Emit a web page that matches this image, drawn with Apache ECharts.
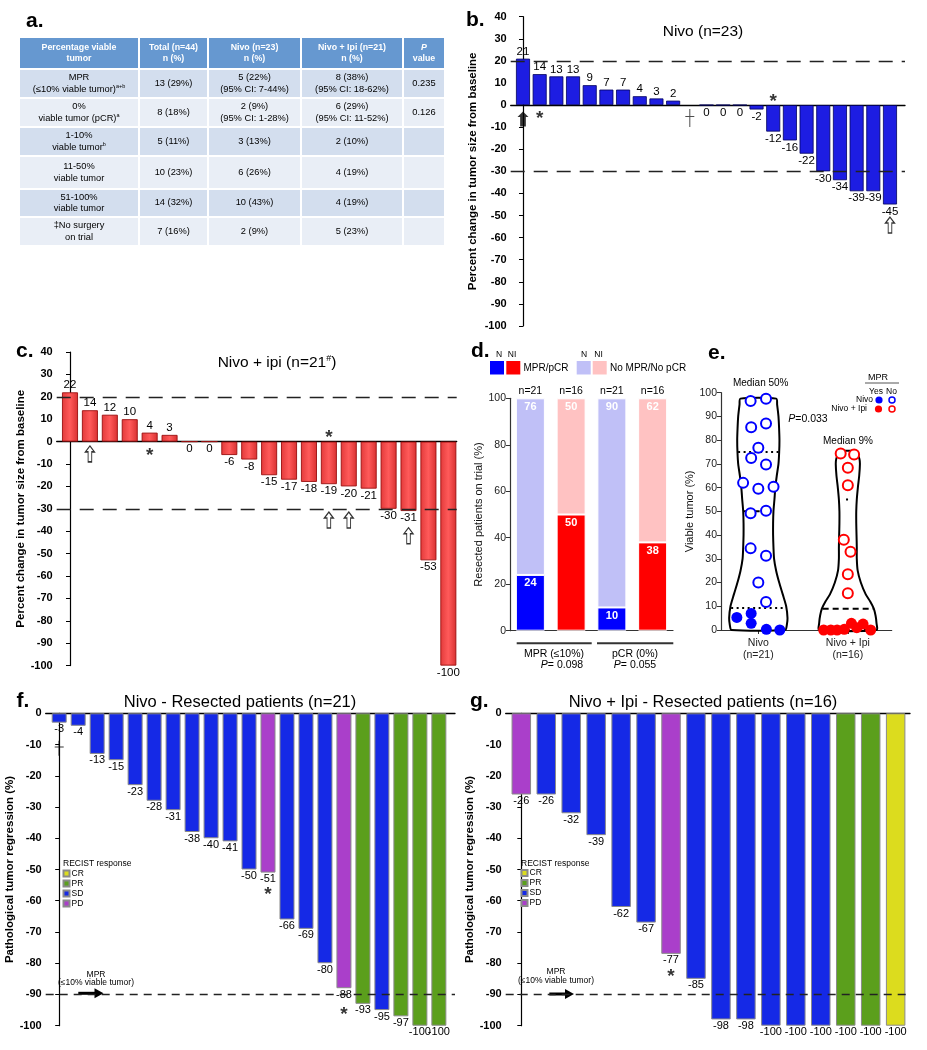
<!DOCTYPE html>
<html><head><meta charset="utf-8">
<script src="https://cdn.jsdelivr.net/npm/echarts@6/dist/echarts.min.js"></script>
<style>
html,body{margin:0;padding:0;background:#fff;}
#chart{position:absolute;left:0;top:0;width:927px;height:1050px;}
#tbl{position:absolute;left:18px;top:36px;border-collapse:separate;border-spacing:2px;table-layout:fixed;
 font-family:"Liberation Sans",Arial,sans-serif;font-size:9.3px;line-height:11.5px;color:#000;}
#tbl td{padding:0;text-align:center;vertical-align:middle;overflow:hidden;white-space:nowrap;}
#tbl tr.h td{background:#6698d0;color:#fff;font-weight:bold;font-size:8.8px;}
#tbl tr.r0 td{background:#d3deee;}
#tbl tr.r1 td{background:#e9eef6;}
#tbl sup{font-size:5.5px;line-height:0;vertical-align:4px;}
</style></head>
<body>
<div id="chart"></div>
<table id="tbl"></table>
<script>
// ---------------- DATA ----------------
// a. table
const tableHeader = [['Percentage viable','tumor'],['Total (n=44)','n (%)'],['Nivo (n=23)','n (%)'],['Nivo + Ipi (n=21)','n (%)'],['P','value']];
const tableRowLabels = [['MPR','(≤10% viable tumor)','a+b'],['0%','viable tumor (pCR)','a'],['1-10%','viable tumor','b'],['11-50%','viable tumor',''],['51-100%','viable tumor',''],['‡No surgery','on trial','']];
const tableTotal = ['13 (29%)','8 (18%)','5 (11%)','10 (23%)','14 (32%)','7 (16%)'];
const tableNivo = [['5 (22%)','(95% CI: 7-44%)'],['2 (9%)','(95% CI: 1-28%)'],['3 (13%)'],['6 (26%)'],['10 (43%)'],['2 (9%)']];
const tableNivoIpi = [['8 (38%)','(95% CI: 18-62%)'],['6 (29%)','(95% CI: 11-52%)'],['2 (10%)'],['4 (19%)'],['4 (19%)'],['5 (23%)']];
const tablePValue = ['0.235','0.126','','','',''];

// b. Nivo percent change (null = no surgery / not measured)
const nivoChange = [21,14,13,13,9,7,7,4,3,2,null,0,0,0,-2,-12,-16,-22,-30,-34,-39,-39,-45];
const bSolidArrows = [[0,-6.3]];
const bHollowArrows = [[22,-54.3]];
const bStars = [[1,-4.4],[15,3.2]];
const bDaggers = [[10,-5.8]];

// c. Nivo + ipi percent change
const ipiChange = [22,14,12,10,4,3,0,0,-6,-8,-15,-17,-18,-19,-20,-21,-30,-31,-53,-100];
const cHollowArrows = [[1,-5.5],[13,-35],[14,-35],[17,-42]];
const cStars = [[4,-4.5],[13,3.7]];

// d. stacked response
const dGroups = ['MPR (≤10%)','pCR (0%)'];
const dPValues = ['0.098','0.055'];
const dArm = ['N','NI','N','NI'];
const dResp = [24,50,10,38];
const dNoResp = [76,50,90,62];
const dN = [21,16,21,16];

// e. viable tumor violin
const eArms = ['Nivo','Nivo + Ipi'];
const eArmN = [21,16];
const eMedianText = ['Median 50%','Median 9%'];
const eNivoYesX = [-0.24,-0.08,-0.08,0.09,0.24];
const eNivoYesY = [5.3,7,2.8,0.3,0];
const eNivoNoX = [-0.086,0.086,-0.08,0.086,0,-0.08,0.086,-0.17,0,0.17,-0.086,0.086,-0.086,0.086,0,0.086];
const eNivoNoY = [96.5,97.5,85.4,87,76.8,72.5,69.7,62,59.5,60.4,49.2,50.3,34.4,31.3,20,11.8];
const eIpiYesX = [-0.27,-0.19,-0.12,-0.04,0.04,0.10,0.17,0.255];
const eIpiYesY = [0,0,0,0.3,2.8,1,2.5,0];
const eIpiNoX = [-0.08,0.07,0,0,-0.045,0.03,0,0];
const eIpiNoY = [74.4,74,68.4,61,38,33,23.5,15.5];
const eViolinLevels = [
  [97.5,95,90,85,80,75,70,65,60,55,50,45,40,35,30,25,20,15,10,5,2,0],
  [75.5,75,74,72,70,65,60,55,50,45,40,35,30,25,20,15,12,9,6,3,0]
];
const eViolinHalf = [
  [0.20,0.21,0.225,0.232,0.236,0.233,0.225,0.206,0.19,0.18,0.169,0.165,0.165,0.169,0.176,0.199,0.233,0.273,0.311,0.326,0.318,0.30],
  [0.05,0.09,0.11,0.13,0.135,0.127,0.112,0.10,0.094,0.094,0.097,0.10,0.10,0.11,0.145,0.20,0.25,0.29,0.31,0.32,0.32]
];
const eQ1 = [9.3, 0];
const eMedian = [50, 9];
const eQ3 = [75, 55];
const eP = '0.033';

// f. Nivo pathological regression
const fRegression = [-3,-4,-13,-15,-23,-28,-31,-38,-40,-41,-50,-51,-66,-69,-80,-88,-93,-95,-97,-100,-100];
const fRecist = ['SD','SD','SD','SD','SD','SD','SD','SD','SD','SD','SD','PD','SD','SD','SD','PD','PR','SD','PR','PR','PR'];
const fDaggers = [[0,-11.2]];
const fStars = [[11,-56.9],[15,-95.3]];
// g. Nivo + Ipi pathological regression
const gRegression = [-26,-26,-32,-39,-62,-67,-77,-85,-98,-98,-100,-100,-100,-100,-100,-100];
const gRecist = ['PD','SD','SD','SD','SD','SD','PD','SD','SD','SD','SD','SD','SD','PR','PR','CR'];
const gStars = [[6,-82.9]];
const recistNames = ['CR','PR','SD','PD'];
const mprThreshold = -90;

// ---------------- TABLE ----------------
(function(){
  const widths=[118,67,91,100,40], heights=[30,27,27,27,31,26,27];
  let h='<colgroup>'+widths.map(w=>'<col style="width:'+w+'px">').join('')+'</colgroup>';
  h+='<tr class="h" style="height:'+heights[0]+'px">'+tableHeader.map((c,i)=>'<td>'+(i===4?'<i>'+c[0]+'</i>':c[0])+'<br>'+c[1]+'</td>').join('')+'</tr>';
  tableRowLabels.forEach((r,k)=>{
    h+='<tr class="r'+(k%2)+'" style="height:'+heights[k+1]+'px">';
    h+='<td>'+r[0]+'<br>'+r[1]+(r[2]?'<sup>'+r[2]+'</sup>':'')+'</td>';
    h+='<td>'+tableTotal[k]+'</td>';
    h+='<td>'+tableNivo[k].join('<br>')+'</td>';
    h+='<td>'+tableNivoIpi[k].join('<br>')+'</td>';
    h+='<td>'+tablePValue[k]+'</td></tr>';
  });
  document.getElementById('tbl').innerHTML=h;
})();

// ---------------- CHART ----------------
const FONT='"Liberation Sans", Arial, Helvetica, sans-serif';
const chart=echarts.init(document.getElementById('chart'),null,{renderer:'canvas',width:927,height:1050});
const ARROW='path://M5,0 L10,6 L7,6 L7,16 L3,16 L3,6 L0,6 Z';
const ARROW_SOLID='path://M5,0 L10,6 L7.6,6 L7.6,16 L2.4,16 L2.4,6 L0,6 Z';
const DAGGER='path://M4,0 L5,0 L5,7 L9,7 L9,8 L5,8 L5,18 L4,18 L4,8 L0,8 L0,7 L4,7 Z';
const DAGGER_BOLD='path://M3.8,0 L5.2,0 L5.2,6.8 L9,6.8 L9,8.2 L5.2,8.2 L5.2,18 L3.8,18 L3.8,8.2 L0,8.2 L0,6.8 L3.8,6.8 Z';
const recistColor={CR:'#dcdc1e',PR:'#5b9f1c',SD:'#1529e6',PD:'#aa3fca'};

function waterY(gi,min,max,name,gap){
  return {gridIndex:gi,type:'value',min:min,max:max,interval:10,name:name,nameLocation:'middle',nameGap:gap,
    nameTextStyle:{fontSize:11.5,fontWeight:'bold',color:'#000',fontFamily:FONT},
    axisLine:{show:true,lineStyle:{color:'#000',width:1.2}},axisTick:{show:true,length:4,lineStyle:{color:'#000'}},
    axisLabel:{fontSize:11,fontWeight:'bold',color:'#000',margin:4,fontFamily:FONT},splitLine:{show:false}};
}
function waterX(gi,min,max){
  return {gridIndex:gi,type:'value',min:min,max:max,axisLine:{show:true,onZero:true,lineStyle:{color:'#000',width:1.3}},
    axisTick:{show:false},axisLabel:{show:false},splitLine:{show:false}};
}
function waterData(vals){
  return vals.map((v,i)=>v===null?null:{value:[i,v],label:{position:v>0?'top':'bottom'}}).filter(Boolean);
}
function markerSeries(gi,pts,kind,size){
  const s={type:'scatter',xAxisIndex:gi,yAxisIndex:gi,data:pts,clip:false,z:5,silent:true};
  if(kind==='star'){
    s.symbol='circle';s.symbolSize=1;s.itemStyle={color:'rgba(0,0,0,0)'};
    s.label={show:true,formatter:'*',position:'inside',fontSize:size||19,fontWeight:'bold',color:'#000',offset:[0,4],fontFamily:FONT};
  } else if(kind==='dagger'){
    s.symbol=DAGGER;s.symbolSize=size;s.itemStyle={color:'#222'};
  } else if(kind==='daggerBold'){
    s.symbol=DAGGER_BOLD;s.symbolSize=size;s.itemStyle={color:'#000'};
  } else if(kind==='solid'){
    s.symbol=ARROW_SOLID;s.symbolSize=size;s.itemStyle={color:'#000'};
  } else {
    s.symbol=ARROW;s.symbolSize=size;
    s.itemStyle={color:'#fff',borderColor:'#000',borderWidth:1.2};
  }
  return s;
}
function dashedMark(vals,dash){
  return {silent:true,symbol:'none',label:{show:false},lineStyle:{type:dash,color:'#222',width:1.3},data:vals.map(v=>({yAxis:v}))};
}
function pathSeries(gi,vals,resp,barW){
  return recistNames.map(r=>({
    type:'bar',name:r,xAxisIndex:gi,yAxisIndex:gi,barWidth:barW,barGap:'-100%',
    data:vals.map((v,i)=>resp[i]===r?[i,v]:null).filter(Boolean),
    itemStyle:{color:recistColor[r],borderColor:'#8a8a8a',borderWidth:1},
    label:{show:true,position:'bottom',distance:1,fontSize:11,color:'#000',fontFamily:FONT,formatter:p=>p.value[1]},
    markLine:r==='SD'?dashedMark([mprThreshold],[8,6]):undefined
  }));
}
function interpHalf(k,y){
  const L=eViolinLevels[k],W=eViolinHalf[k];
  for(let i=0;i<L.length-1;i++){
    if(y<=L[i]&&y>=L[i+1]){const t=(L[i]-y)/(L[i]-L[i+1]);return W[i]+(W[i+1]-W[i])*t;}
  }
  return W[W.length-1];
}
function scatterData(cx,xs,ys){return xs.map((x,i)=>[cx+x,ys[i]]);}

// grids: 0=b,1=c,2=d,3=e,4=f,5=g
const grid=[
  {left:510.7,top:16.7,width:394.3,height:309.3},
  {left:56.7,top:352,width:400,height:313.6},
  {left:510,top:398.3,width:163,height:232.4},
  {left:721,top:392.7,width:170.7,height:237.3},
  {left:45.7,top:713.3,width:409.3,height:312.4},
  {left:505.7,top:713.3,width:404.3,height:312.4}
];
const xAxis=[
  waterX(0,-0.737,22.9),
  waterX(1,-0.668,19.42),
  {gridIndex:2,type:'category',data:dArm,axisLabel:{show:false},axisTick:{alignWithLabel:true,length:5,lineStyle:{color:'#333'}},axisLine:{lineStyle:{color:'#333',width:1.2}}},
  {gridIndex:3,type:'value',min:0.583,max:2.49,splitLine:{show:false},axisLine:{onZero:false,lineStyle:{color:'#333',width:1.2}},
    axisTick:{show:true,customValues:[1,2],length:4,lineStyle:{color:'#333'}},
    axisLabel:{customValues:[1,2],formatter:v=>eArms[Math.round(v)-1]+'\n(n='+eArmN[Math.round(v)-1]+')',fontSize:10.5,lineHeight:12,color:'#222',margin:7,fontFamily:FONT}},
  waterX(4,-0.711,20.85),
  waterX(5,-0.625,15.575)
];
const yAxis=[
  waterY(0,-100,40,'Percent change in tumor size from baseline',32),
  waterY(1,-100,40,'Percent change in tumor size from baseline',27),
  {gridIndex:2,type:'value',min:0,max:100,interval:20,name:'Resected patients on trial (%)',nameLocation:'middle',nameGap:22,
    nameTextStyle:{fontSize:11,color:'#111',fontFamily:FONT},axisLine:{show:true,lineStyle:{color:'#333',width:1.2}},
    axisTick:{show:true,length:4,lineStyle:{color:'#333'}},axisLabel:{fontSize:10.5,color:'#222',margin:4,fontFamily:FONT},splitLine:{show:false}},
  {gridIndex:3,type:'value',min:0,max:100,interval:10,name:'Viable tumor (%)',nameLocation:'middle',nameGap:24,
    nameTextStyle:{fontSize:11,color:'#111',fontFamily:FONT},axisLine:{show:true,lineStyle:{color:'#333',width:1.2}},
    axisTick:{show:true,length:4,lineStyle:{color:'#333'}},axisLabel:{fontSize:10.5,color:'#222',margin:4,fontFamily:FONT},splitLine:{show:false}},
  waterY(4,-100,0,'Pathological tumor regression (%)',22),
  waterY(5,-100,0,'Pathological tumor regression (%)',26)
];

const barLabel={show:true,fontSize:11.5,color:'#000',distance:1,fontFamily:FONT,formatter:p=>p.value[1]};
const series=[
  // b
  {type:'bar',xAxisIndex:0,yAxisIndex:0,data:waterData(nivoChange),barWidth:14,
    itemStyle:{color:'#1d1de2',borderColor:'#00005c',borderWidth:0.8},label:barLabel,markLine:dashedMark([20,-30],[14,9])},
  markerSeries(0,bSolidArrows,'solid',[11,15]),
  markerSeries(0,bHollowArrows,'hollow',[9,16]),
  markerSeries(0,bStars,'star'),
  markerSeries(0,bDaggers,'dagger',[9,18]),
  // c
  {type:'bar',xAxisIndex:1,yAxisIndex:1,data:waterData(ipiChange),barWidth:16,
    itemStyle:{color:{type:'linear',x:0,y:0,x2:1,y2:0,colorStops:[{offset:0,color:'#e23a3a'},{offset:0.5,color:'#ff5a5a'},{offset:1,color:'#d83030'}]},borderColor:'#9a0f0f',borderWidth:0.9},
    label:barLabel,markLine:dashedMark([20,-30],[14,9])},
  markerSeries(1,cHollowArrows,'hollow',[9,16]),
  markerSeries(1,cStars,'star'),
  // d
  {type:'bar',name:'MPR/pCR',stack:'d',xAxisIndex:2,yAxisIndex:2,barWidth:29,
    data:dResp.map((v,i)=>({value:v,itemStyle:{color:dArm[i]==='N'?'#0000ff':'#ff0000'}})),
    itemStyle:{borderColor:'#fff',borderWidth:1},
    label:{show:true,position:'insideTop',distance:3,color:'#fff',fontWeight:'bold',fontSize:11,fontFamily:FONT}},
  {type:'bar',name:'No MPR/No pCR',stack:'d',xAxisIndex:2,yAxisIndex:2,barWidth:29,
    data:dNoResp.map((v,i)=>({value:v,itemStyle:{color:dArm[i]==='N'?'#c0c0f7':'#ffc2c2'}})),
    itemStyle:{borderColor:'#fff',borderWidth:1},
    label:{show:true,position:'insideTop',distance:3,color:'#fff',fontWeight:'bold',fontSize:11,fontFamily:FONT}},
  {type:'bar',stack:'d',xAxisIndex:2,yAxisIndex:2,barWidth:29,data:dN.map(()=>0),itemStyle:{color:'rgba(0,0,0,0)'},
    label:{show:true,position:'top',distance:2,color:'#000',fontSize:10.5,fontFamily:FONT,formatter:p=>'n='+dN[p.dataIndex]}},
  // e violins
  {type:'custom',xAxisIndex:3,yAxisIndex:3,data:[[1],[2]],silent:true,z:2,
    renderItem:function(params,api){
      const k=params.dataIndex,c=api.value(0);
      const L=eViolinLevels[k],W=eViolinHalf[k];
      const left=L.map((y,i)=>api.coord([c-W[i],y]));
      const right=L.map((y,i)=>api.coord([c+W[i],y])).reverse();
      return {type:'polygon',shape:{points:left.concat(right),smooth:0.25},style:{fill:'none',stroke:'#000',lineWidth:2}};
    }},
  {type:'custom',xAxisIndex:3,yAxisIndex:3,silent:true,z:3,
    data:[[1,eQ1[0],0],[1,eMedian[0],1],[1,eQ3[0],0],[2,eQ1[1],0],[2,eMedian[1],1],[2,eQ3[1],0]],
    renderItem:function(params,api){
      const c=api.value(0),y=api.value(1),med=api.value(2)===1,k=Math.round(c)-1;
      let hw=interpHalf(k,y)*0.97; if(k===1&&!med&&y>20) hw=0.02;
      const p1=api.coord([c-hw,y]),p2=api.coord([c+hw,y]);
      return {type:'line',shape:{x1:p1[0],y1:p1[1],x2:p2[0],y2:p2[1]},
        style:{stroke:'#000',lineWidth:2,lineDash:med?[6,4]:[2,3.5]}};
    }},
  {type:'scatter',xAxisIndex:3,yAxisIndex:3,clip:false,z:4,symbolSize:10,data:scatterData(1,eNivoNoX,eNivoNoY),
    itemStyle:{color:'#fff',borderColor:'#0000ff',borderWidth:2,opacity:1}},
  {type:'scatter',xAxisIndex:3,yAxisIndex:3,clip:false,z:4,symbolSize:11,data:scatterData(1,eNivoYesX,eNivoYesY),
    itemStyle:{color:'#0000ff',opacity:1}},
  {type:'scatter',xAxisIndex:3,yAxisIndex:3,clip:false,z:4,symbolSize:10,data:scatterData(2,eIpiNoX,eIpiNoY),
    itemStyle:{color:'#fff',borderColor:'#ff0000',borderWidth:2,opacity:1}},
  {type:'scatter',xAxisIndex:3,yAxisIndex:3,clip:false,z:4,symbolSize:11,data:scatterData(2,eIpiYesX,eIpiYesY),
    itemStyle:{color:'#ff0000',opacity:1}}
].concat(
  pathSeries(4,fRegression,fRecist,15),
  [markerSeries(4,fDaggers,'daggerBold',[9,15]),markerSeries(4,fStars,'star')],
  pathSeries(5,gRegression,gRecist,19.5),
  [markerSeries(5,gStars,'star')]
);

function txt(x,y,text,o){
  o=o||{};
  return {type:'text',x:x,y:y,z:10,silent:true,style:Object.assign({text:text,fill:'#000',fontFamily:FONT,fontSize:11,
    textAlign:'center',textVerticalAlign:'middle'},o)};
}
function arrow(x1,x2,y){
  return {type:'group',silent:true,z:10,children:[
    {type:'line',shape:{x1:x1,y1:y,x2:x2-7,y2:y},style:{stroke:'#000',lineWidth:3}},
    {type:'polygon',shape:{points:[[x2-9,y-5],[x2,y],[x2-9,y+5]]},style:{fill:'#000'}}
  ]};
}
const rich={i:{fontStyle:'italic',fontFamily:FONT,fontSize:11},sup:{fontSize:9,fontFamily:FONT,padding:[0,0,7,0]}};
const graphic=[
  txt(26,21.7,'a.',{textAlign:'left',fontSize:21,fontWeight:'bold'}),
  txt(466,20,'b.',{textAlign:'left',fontSize:21,fontWeight:'bold'}),
  txt(16,351.7,'c.',{textAlign:'left',fontSize:21,fontWeight:'bold'}),
  txt(471,351.7,'d.',{textAlign:'left',fontSize:21,fontWeight:'bold'}),
  txt(708,353.3,'e.',{textAlign:'left',fontSize:21,fontWeight:'bold'}),
  txt(16.5,701.7,'f.',{textAlign:'left',fontSize:21,fontWeight:'bold'}),
  txt(470,701.7,'g.',{textAlign:'left',fontSize:21,fontWeight:'bold'}),
  txt(703,31.5,'Nivo (n=23)',{fontSize:15.5}),
  txt(277,362.5,'Nivo + ipi (n=21{sup|#})',{fontSize:15.5,rich:rich}),
  txt(240,702,'Nivo - Resected patients (n=21)',{fontSize:16.5}),
  txt(703,702,'Nivo + Ipi - Resected patients (n=16)',{fontSize:16.5}),
  // d legend
  txt(499,355,'N',{fontSize:8.5}),txt(512,355,'NI',{fontSize:8.5}),
  {type:'rect',shape:{x:490,y:361,width:14,height:13.5},style:{fill:'#0000ff'},z:10},
  {type:'rect',shape:{x:506.3,y:361,width:14,height:13.5},style:{fill:'#ff0000'},z:10},
  txt(523.5,368,'MPR/pCR',{textAlign:'left',fontSize:10}),
  txt(584,355,'N',{fontSize:8.5}),txt(598.5,355,'NI',{fontSize:8.5}),
  {type:'rect',shape:{x:576.7,y:361,width:14,height:13.5},style:{fill:'#c0c0f7'},z:10},
  {type:'rect',shape:{x:592.7,y:361,width:14,height:13.5},style:{fill:'#ffc2c2'},z:10},
  txt(610,368,'No MPR/No pCR',{textAlign:'left',fontSize:10}),
  // d group brackets
  {type:'line',shape:{x1:516.7,y1:643.3,x2:591.7,y2:643.3},style:{stroke:'#333',lineWidth:2},z:10},
  {type:'line',shape:{x1:597,y1:643.3,x2:673.3,y2:643.3},style:{stroke:'#333',lineWidth:2},z:10},
  txt(554,654,dGroups[0],{fontSize:10.5}),txt(635,654,dGroups[1],{fontSize:10.5}),
  txt(562,665.5,'{i|P}= '+dPValues[0],{fontSize:10.5,rich:{i:{fontStyle:'italic',fontSize:10.5,fontFamily:FONT}}}),
  txt(635,665.5,'{i|P}= '+dPValues[1],{fontSize:10.5,rich:{i:{fontStyle:'italic',fontSize:10.5,fontFamily:FONT}}}),
  // e annotations
  txt(760.7,383.5,eMedianText[0],{fontSize:10}),
  txt(848,441.5,eMedianText[1],{fontSize:10}),
  txt(808,419,'{i|P}='+eP,{fontSize:10.5,rich:{i:{fontStyle:'italic',fontSize:10.5,fontFamily:FONT}}}),
  txt(878,377.5,'MPR',{fontSize:9}),
  {type:'line',shape:{x1:865,y1:383,x2:899,y2:383},style:{stroke:'#555',lineWidth:1},z:10},
  txt(876,391.5,'Yes',{fontSize:8.5}),txt(891.5,391.5,'No',{fontSize:8.5}),
  txt(873,400,'Nivo',{fontSize:8.5,textAlign:'right'}),
  txt(867,409,'Nivo + Ipi',{fontSize:8.5,textAlign:'right'}),
  {type:'circle',shape:{cx:879,cy:400,r:3.6},style:{fill:'#0000ff'},z:10},
  {type:'circle',shape:{cx:892,cy:400,r:3},style:{fill:'#fff',stroke:'#0000ff',lineWidth:1.5},z:10},
  {type:'circle',shape:{cx:878.5,cy:409,r:3.6},style:{fill:'#ff0000'},z:10},
  {type:'circle',shape:{cx:892,cy:409,r:3},style:{fill:'#fff',stroke:'#ff0000',lineWidth:1.5},z:10},
  // f/g annotations
  txt(63,864,'RECIST response',{textAlign:'left',fontSize:8.5}),
  txt(521,864,'RECIST response',{textAlign:'left',fontSize:8.5}),
  txt(96,974.5,'MPR',{fontSize:8.5}),txt(96,982.5,'(≤10% viable tumor)',{fontSize:8.5}),
  txt(556,971.5,'MPR',{fontSize:8.5}),txt(556,980.5,'(≤10% viable tumor)',{fontSize:8.5}),
  arrow(78.3,103.5,993.3),
  arrow(549.3,574,994)
];
const legendBase={orient:'vertical',itemWidth:6,itemHeight:6,itemGap:0,padding:0,selectedMode:false,icon:'rect',
  textStyle:{fontSize:8.5,lineHeight:10,color:'#000',fontFamily:FONT,padding:[0,0,0,-3]},data:recistNames};
chart.setOption({
  animation:false,backgroundColor:'#fff',
  textStyle:{fontFamily:FONT},
  grid:grid,xAxis:xAxis,yAxis:yAxis,series:series,graphic:graphic,
  legend:[Object.assign({left:62.5,top:868.5},legendBase),Object.assign({left:520.5,top:868},legendBase)]
});
</script>
</body></html>
